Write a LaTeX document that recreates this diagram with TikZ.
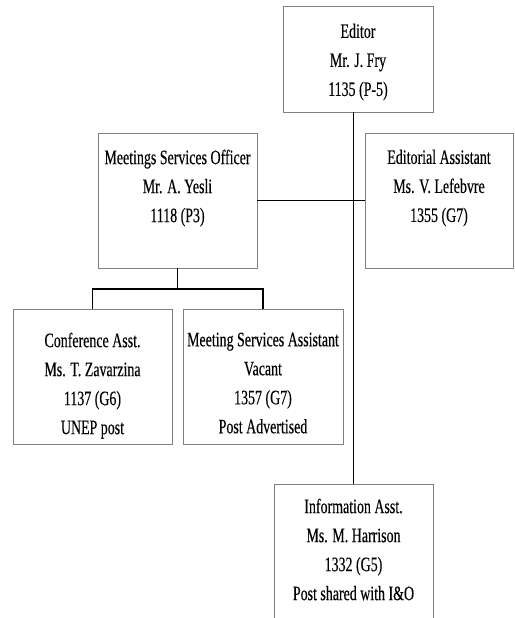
\documentclass[tikz,border=0pt]{standalone}
\usepackage{fontspec}
\setmainfont{Liberation Serif}[FakeStretch=0.68,FakeBold=0.25]
\definecolor{boxgray}{RGB}{128,128,128}
\begin{document}
\begin{tikzpicture}[x=1pt,y=-1pt,
  box/.style={draw=boxgray, line width=1pt, fill=white, outer sep=0pt, inner sep=0pt},
  lbl/.style={anchor=north, align=center, inner sep=0pt, font=\fontsize{20.5pt}{29pt}\selectfont},
  conn/.style={draw=black, line width=1.4pt}]
\useasboundingbox (0,0) rectangle (514,618);
\clip (0,0) rectangle (514,618);
% boxes
\node[box, minimum width=150pt, minimum height=105pt] (ed) at (358,59.5) {};
\node[box, minimum width=148pt, minimum height=135pt] (ea) at (439,200.5) {};
\node[box, minimum width=159pt, minimum height=135pt] (mso) at (177.5,200.5) {};
\node[box, minimum width=159pt, minimum height=135pt] (ca) at (92.5,376.5) {};
\node[box, minimum width=160pt, minimum height=135pt] (msa) at (263,376.5) {};
\node[box, minimum width=159pt, minimum height=140pt] (ia) at (353.5,554) {};
% connectors
\draw[conn] (ia.north) -- (ia.north |- ed.south);
\draw[conn] (mso.east) -- (ea.west);
\coordinate (j) at (177.5,289);
\draw[conn] (mso.south) -- (j);
\draw[conn] (ca.north) -- (ca.north |- j) -- (msa.north |- j) -- (msa.north);
% labels
\node[lbl] (edt) at (358,23.5) {Editor\\Mr. J. Fry\\1135 (P-5)};
\node[lbl] (eat) at (439,149.5) {Editorial Assistant\\Ms. V. Lefebvre\\1355 (G7)};
\node[lbl] (msot) at (177.5,149.5) {Meetings Services Officer\\Mr. A. Yesli\\1118 (P3)};
\node[lbl] (cat) at (92.5,332.5) {Conference Asst.\\Ms. T. Zavarzina\\1137 (G6)\\UNEP post};
\node[lbl] (msat) at (263,332.5) {Meeting Services Assistant\\Vacant\\1357 (G7)\\Post Advertised};
\node[lbl] (iat) at (353.5,498.5) {Information Asst.\\Ms. M. Harrison\\1332 (G5)\\Post shared with I\&O};
\end{tikzpicture}
\end{document}
